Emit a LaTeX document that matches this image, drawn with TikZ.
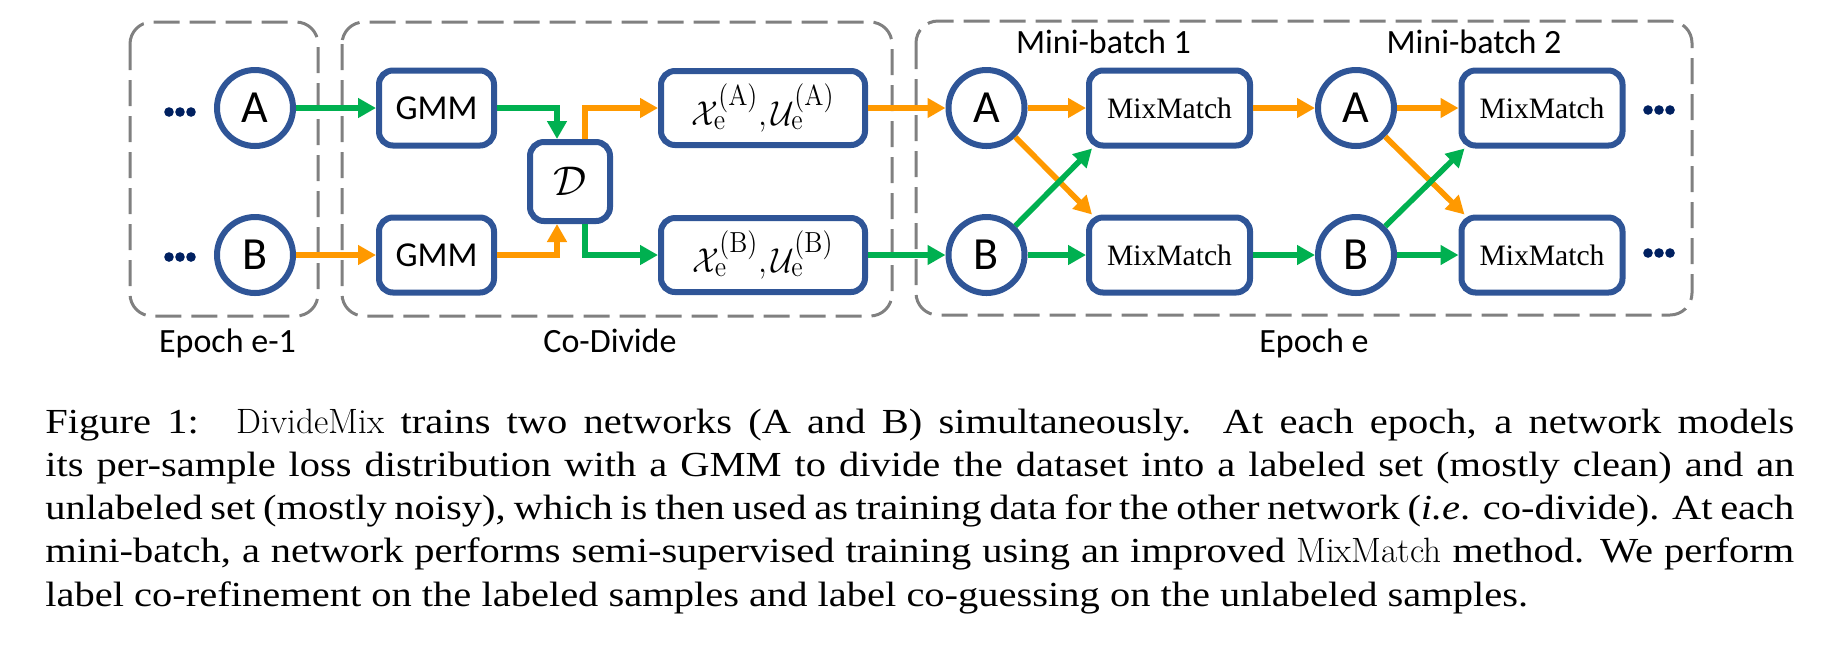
\documentclass[tikz,border=0pt]{standalone}
\usepackage{fontspec}
\usetikzlibrary{arrows.meta,calc}
\newfontfamily\calib{Carlito}
\newfontfamily\timesf{Liberation Serif}
\newfontfamily\capfont[FakeStretch=1.15]{Liberation Serif}
\definecolor{nblue}{HTML}{2F5597}
\definecolor{agreen}{HTML}{00B050}
\definecolor{aorange}{HTML}{FF9900}
\definecolor{dgray}{HTML}{808080}
\definecolor{dnavy}{HTML}{002060}
\newcommand{\smallrm}[1]{\mbox{\fontsize{14.5pt}{15pt}\selectfont #1}}
\newcommand{\setlabel}[1]{\scalebox{0.9}[1]{$\mathcal{X}_{\smallrm{e}}^{\smallrm{(#1)}}{,}\mkern3mu\mathcal{U}_{\smallrm{e}}^{\smallrm{(#1)}}$}}
\begin{document}
\begin{tikzpicture}[x=0.5pt,y=-0.5pt,
 netnode/.style={draw=nblue, line width=3pt, circle, minimum size=38pt, inner sep=0pt, font=\calib\fontsize{23pt}{25pt}\selectfont},
 boxnode/.style={draw=nblue, line width=3pt, rounded corners=7pt, inner sep=0pt, minimum height=37.5pt},
 gmmbox/.style={boxnode, minimum width=57.5pt, font=\calib\fontsize{17.5pt}{20pt}\selectfont},
 setbox/.style={boxnode, minimum width=102pt, minimum height=37pt, font=\fontsize{19pt}{22pt}\selectfont},
 mmbox/.style={boxnode, minimum width=80.5pt, font=\timesf\fontsize{14.8pt}{17pt}\selectfont},
 dbox/.style={boxnode, minimum width=40pt, minimum height=39.5pt, font=\fontsize{21pt}{24pt}\selectfont},
 groupbox/.style={draw=dgray, line width=1.5pt, dash pattern=on 13pt off 5pt, rounded corners=11pt},
 glabel/.style={anchor=base, inner sep=0pt, font=\calib\fontsize{17pt}{20pt}\selectfont},
 garrow/.style={draw=agreen, line width=2.8pt, -{Triangle[length=9pt,width=9.5pt]}},
 oarrow/.style={draw=aorange, line width=2.8pt, -{Triangle[length=9pt,width=9.5pt]}},
 capline/.style={anchor=base west, inner sep=0pt, font=\capfont\fontsize{17.6pt}{21.6pt}\selectfont},
 ndot/.style={fill=dnavy, circle, inner sep=0pt, minimum size=4.8pt}
]
\useasboundingbox (0,0) rectangle (1842,645);
% group frames
\draw[groupbox] (130,22) rectangle (318,316);
\draw[groupbox] (342,22) rectangle (892,316);
\draw[groupbox] (916,21) rectangle (1692,315);
% nodes
\node[netnode] (A0) at (255,108) {A};
\node[netnode] (B0) at (255,255) {B};
\node[gmmbox] (gA) at (436.5,108) {GMM};
\node[gmmbox] (gB) at (436.5,255) {GMM};
\node[dbox] (D) at (570,181.5) {$\mathcal{D}$};
\node[setbox] (XA) at (763,108) {\setlabel{A}};
\node[setbox] (XB) at (763,255) {\setlabel{B}};
\node[netnode] (A1) at (986.5,108) {A};
\node[netnode] (B1) at (986.5,255) {B};
\node[mmbox] (M1a) at (1169.5,108) {MixMatch};
\node[mmbox] (M1b) at (1169.5,255) {MixMatch};
\node[netnode] (A2) at (1356,108) {A};
\node[netnode] (B2) at (1356,255) {B};
\node[mmbox] (M2a) at (1542,108) {MixMatch};
\node[mmbox] (M2b) at (1542,255) {MixMatch};
% dots
\foreach \x in {169,180,191} {
  \node[ndot] (dA\x) at (\x,112) {};
  \node[ndot] (dB\x) at (\x,257) {};
}
\foreach \x in {1648,1659,1670} {
  \node[ndot] (eA\x) at (\x,110) {};
  \node[ndot] (eB\x) at (\x,253) {};
}
% labels
\node[glabel] (l1) at (227.5,352) {Epoch e-1};
\node[glabel] (l2) at (610,352) {Co-Divide};
\node[glabel] (l3) at (1314,352) {Epoch e};
\node[glabel] (l4) at (1103.5,53) {Mini-batch 1};
\node[glabel] (l5) at (1474,53) {Mini-batch 2};
% arrows
\draw[garrow] (A0) -- (gA);
\draw[oarrow] (B0) -- (gB);
\draw[garrow] (gA.east) -| ([xshift=-6.5pt]D.north);
\draw[oarrow] (gB.east) -| ([xshift=-6.5pt]D.south);
\draw[oarrow] ([xshift=7.5pt]D.north) |- (XA.west);
\draw[garrow] ([xshift=7.5pt]D.south) |- (XB.west);
\draw[oarrow] (XA) -- (A1);
\draw[garrow] (XB) -- (B1);
\draw[oarrow] (A1) -- (M1a);
\draw[oarrow] (A1) -- ([xshift=3pt]M1b.north west);
\draw[garrow] (B1) -- ([xshift=3pt]M1a.south west);
\draw[garrow] (B1) -- (M1b);
\draw[oarrow] (M1a) -- (A2);
\draw[garrow] (M1b) -- (B2);
\draw[oarrow] (A2) -- (M2a);
\draw[oarrow] (A2) -- ([xshift=3pt]M2b.north west);
\draw[garrow] (B2) -- ([xshift=3pt]M2a.south west);
\draw[garrow] (B2) -- (M2b);
% caption
\node[capline] (c1) at (45,433) {\makebox[874.5pt][s]{Figure 1:\hspace{0.35em} {\rmfamily DivideMix} trains two networks (A and B) simultaneously.  At each epoch, a network models}};
\node[capline] (c2) at (45,476) {\makebox[874.5pt][s]{its per-sample loss distribution with a GMM to divide the dataset into a labeled set (mostly clean) and an}};
\node[capline] (c3) at (45,519) {\makebox[874.5pt][s]{unlabeled set (mostly noisy), which is then used as training data for the other network (\textit{i.e}. co-divide). At each}};
\node[capline] (c4) at (45,562) {\makebox[874.5pt][s]{mini-batch, a network performs semi-supervised training using an improved {\rmfamily MixMatch} method. We perform}};
\node[capline] (c5) at (45,606) {label co-refinement on the labeled samples and label co-guessing on the unlabeled samples.};
\end{tikzpicture}
\end{document}
